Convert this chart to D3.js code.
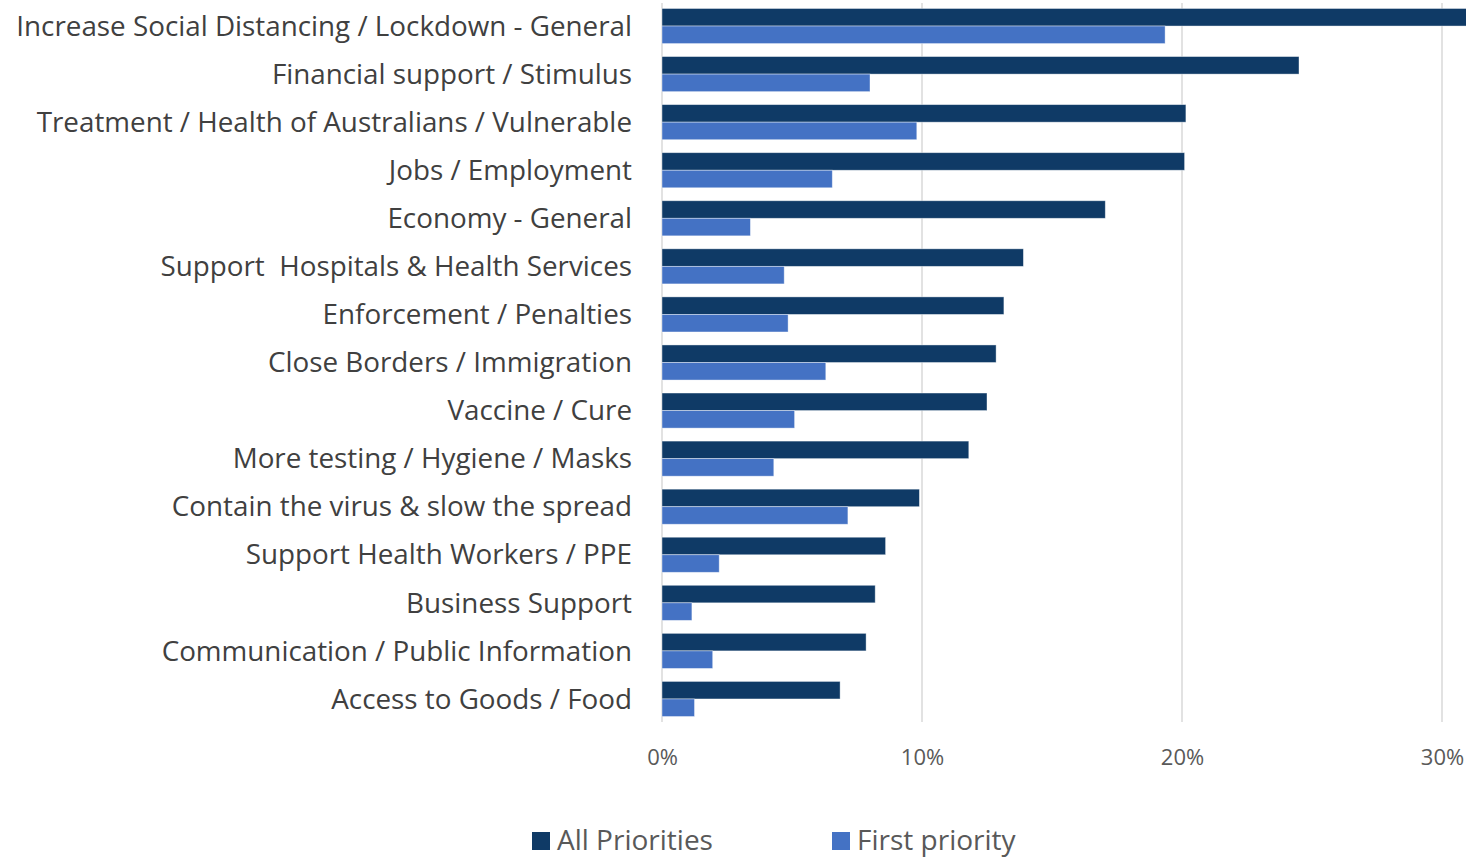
<!DOCTYPE html>
<html>
<head>
<meta charset="utf-8">
<script src="https://d3js.org/d3.v7.min.js"></script>
<style>
  body { margin: 0; background: #fff; }
  svg { display: block; font-family: "Open Sans", sans-serif; }
</style>
</head>
<body>
<div id="chart"></div>
<script>
var categories = [
    "Increase Social Distancing / Lockdown - General",
    "Financial support / Stimulus",
    "Treatment / Health of Australians / Vulnerable",
    "Jobs / Employment",
    "Economy - General",
    "Support  Hospitals & Health Services",
    "Enforcement / Penalties",
    "Close Borders / Immigration",
    "Vaccine / Cure",
    "More testing / Hygiene / Masks",
    "Contain the virus & slow the spread",
    "Support Health Workers / PPE",
    "Business Support",
    "Communication / Public Information",
    "Access to Goods / Food"
];
var allPriorities = [31.5, 24.5, 20.15, 20.1, 17.05, 13.9, 13.15, 12.85, 12.5, 11.8, 9.9, 8.6, 8.2, 7.85, 6.85];
var firstPriority = [19.35, 8.0, 9.8, 6.55, 3.4, 4.7, 4.85, 6.3, 5.1, 4.3, 7.15, 2.2, 1.15, 1.95, 1.25];
var ticks = [0, 10, 20, 30];
var seriesNames = ["All Priorities", "First priority"];
var colors = ["#0f3a66", "#4472c4"];

var width = 1466, height = 862;
var svg = d3.select("#chart").append("svg")
    .attr("width", width)
    .attr("height", height);

var x = d3.scaleLinear().domain([0, 30]).range([662, 1442]);
var y = d3.scaleBand().domain(categories).range([2, 723]).paddingInner(0.27).paddingOuter(0.135);
var sub = d3.scaleBand().domain(seriesNames).range([0, y.bandwidth()]);

// gridlines
svg.append("g").selectAll("line")
    .data(ticks)
    .enter().append("line")
    .attr("x1", function(d) { return x(d); })
    .attr("x2", function(d) { return x(d); })
    .attr("y1", 3)
    .attr("y2", 722)
    .attr("stroke", "#d9d9d9")
    .attr("stroke-width", 1.5);

var rows = categories.map(function(c, i) {
    return { cat: c, vals: [allPriorities[i], firstPriority[i]] };
});

var group = svg.append("g").selectAll("g")
    .data(rows)
    .enter().append("g")
    .attr("transform", function(d) { return "translate(0," + y(d.cat) + ")"; });

group.selectAll("rect")
    .data(function(d) { return d.vals.map(function(v, j) { return { v: v, s: seriesNames[j], j: j }; }); })
    .enter().append("rect")
    .attr("x", x(0))
    .attr("y", function(d) { return sub(d.s); })
    .attr("width", function(d) { return x(d.v) - x(0); })
    .attr("height", sub.bandwidth())
    .attr("fill", function(d) { return colors[d.j]; })
    .attr("stroke", "#ffffff")
    .attr("stroke-opacity", 0.5)
    .attr("stroke-width", 0.8);

// category labels
svg.append("g").selectAll("text")
    .data(categories)
    .enter().append("text")
    .attr("x", 632)
    .attr("y", function(d) { return y(d) + y.bandwidth() / 2; })
    .attr("dy", "0.35em")
    .attr("text-anchor", "end")
    .attr("font-size", 27.8)
    .attr("fill", "#404040")
    .style("white-space", "pre")
    .text(function(d) { return d; });

// x axis labels
var xAxis = d3.axisBottom(x).tickValues(ticks).tickSize(0).tickFormat(function(d) { return d + "%"; });
var ax = svg.append("g")
    .attr("transform", "translate(0,746)")
    .call(xAxis);
ax.select(".domain").remove();
ax.selectAll("text")
    .attr("font-family", "Open Sans, sans-serif")
    .attr("font-size", 22)
    .attr("fill", "#595959");

// legend
var legend = svg.append("g").selectAll("g")
    .data(seriesNames)
    .enter().append("g")
    .attr("transform", function(d, i) { return "translate(" + (532 + i * 300) + ",0)"; });

legend.append("rect")
    .attr("x", 0)
    .attr("y", 832)
    .attr("width", 18)
    .attr("height", 18)
    .attr("fill", function(d, i) { return colors[i]; });

legend.append("text")
    .attr("x", 25)
    .attr("y", 840)
    .attr("dy", "0.35em")
    .attr("font-size", 28)
    .attr("fill", "#595959")
    .text(function(d) { return d; });
</script>
</body>
</html>
